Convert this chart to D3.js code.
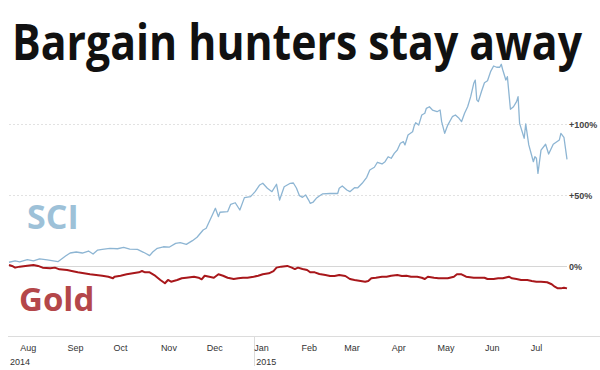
<!DOCTYPE html>
<html>
<head>
<meta charset="utf-8">
<script src="https://cdn.jsdelivr.net/npm/d3@7"></script>
<style>
  body { margin: 0; background: #fff; }
  svg { display: block; }
</style>
</head>
<body>
<svg id="chart" width="600" height="370"></svg>
<script>
// SCI index, % change since 24 Jul 2014
var sciDates = ["2014-07-24","2014-07-28","2014-07-31","2014-08-05","2014-08-09","2014-08-13","2014-08-18","2014-08-22","2014-08-25","2014-08-30",
  "2014-09-02","2014-09-06","2014-09-10","2014-09-14","2014-09-17","2014-09-20","2014-09-23","2014-09-28","2014-10-03","2014-10-07",
  "2014-10-11","2014-10-16","2014-10-20","2014-10-24","2014-10-26","2014-10-29","2014-11-02","2014-11-06","2014-11-10","2014-11-13",
  "2014-11-17","2014-11-21","2014-11-24","2014-11-28","2014-11-30","2014-12-04","2014-12-06","2014-12-08","2014-12-09","2014-12-14",
  "2014-12-16","2014-12-19","2014-12-22","2014-12-25","2014-12-29","2015-01-01","2015-01-04","2015-01-06","2015-01-09","2015-01-12",
  "2015-01-15","2015-01-17","2015-01-20","2015-01-24","2015-01-26","2015-01-28","2015-01-30","2015-02-01","2015-02-03","2015-02-05",
  "2015-02-06","2015-02-08","2015-02-10","2015-02-12","2015-02-14","2015-02-19","2015-02-24","2015-02-25","2015-02-27","2015-03-02",
  "2015-03-04","2015-03-07","2015-03-09","2015-03-12","2015-03-15","2015-03-17","2015-03-20","2015-03-22","2015-03-25","2015-03-27",
  "2015-03-29","2015-03-31","2015-04-02","2015-04-04","2015-04-06","2015-04-08","2015-04-09","2015-04-11","2015-04-14","2015-04-15",
  "2015-04-16","2015-04-18","2015-04-20","2015-04-22","2015-04-23","2015-04-25","2015-04-27","2015-04-30","2015-05-02","2015-05-03",
  "2015-05-05","2015-05-07","2015-05-10","2015-05-12","2015-05-14","2015-05-16","2015-05-18","2015-05-20","2015-05-22","2015-05-24",
  "2015-05-25","2015-05-26","2015-05-27","2015-05-29","2015-05-31","2015-06-02","2015-06-04","2015-06-06","2015-06-08","2015-06-10",
  "2015-06-11","2015-06-12","2015-06-13","2015-06-14","2015-06-15","2015-06-17","2015-06-19","2015-06-21","2015-06-22","2015-06-23",
  "2015-06-24","2015-06-26","2015-06-27","2015-06-29","2015-07-02","2015-07-03","2015-07-04","2015-07-05","2015-07-07","2015-07-10",
  "2015-07-12","2015-07-15","2015-07-19","2015-07-20","2015-07-22","2015-07-24"];
var sciValues = [3.0,3.9,3.2,4.8,3.9,5.3,4.6,3.9,3.4,7.4,
  9.5,10.2,9.5,10.9,8.8,11.6,12.1,12.7,12.5,13.4,
  12.3,12.0,10.0,7.7,10.2,12.8,13.9,13.7,16.3,16.8,
  15.6,18.2,20.6,25.7,26.9,36.3,41.0,35.1,38.2,38.6,
  43.8,44.9,39.8,48.5,49.2,52.7,57.4,58.6,55.1,52.7,
  57.9,46.8,56.2,58.6,58.8,55.3,49.9,48.7,50.4,46.8,
  44.5,45.4,48.0,49.6,51.1,51.4,51.4,55.1,56.7,53.9,
  52.7,55.5,55.3,58.6,62.8,68.0,69.9,73.4,72.2,73.8,
  77.3,76.2,79.7,82.0,86.8,87.9,85.6,92.6,94.9,98.9,
  101.3,99.6,106.7,107.9,111.4,112.5,110.2,109.0,110.2,102.0,
  93.8,99.6,105.5,106.7,104.8,102.0,107.9,112.5,119.6,129.0,
  131.3,117.3,116.1,123.1,129.4,130.8,137.2,141.2,140.3,140.3,
  142.4,138.4,134.9,131.3,133.7,110.7,112.5,116.1,119.6,100.8,
  97.3,90.3,100.4,85.6,73.8,77.3,76.2,65.6,82.0,86.1,
  79.2,86.1,89.1,93.8,91.0,75.5];

// Gold, % change since 24 Jul 2014
var goldDates = ["2014-07-24","2014-07-26","2014-07-28","2014-07-31","2014-08-05","2014-08-09","2014-08-12","2014-08-15","2014-08-20","2014-08-23",
  "2014-08-26","2014-08-31","2014-09-03","2014-09-07","2014-09-11","2014-09-15","2014-09-19","2014-09-23","2014-09-27","2014-09-30",
  "2014-10-01","2014-10-05","2014-10-09","2014-10-13","2014-10-17","2014-10-19","2014-10-21","2014-10-24","2014-10-27","2014-10-31",
  "2014-11-03","2014-11-05","2014-11-07","2014-11-11","2014-11-14","2014-11-17","2014-11-22","2014-11-25","2014-11-27","2014-11-29",
  "2014-12-02","2014-12-05","2014-12-08","2014-12-11","2014-12-14","2014-12-18","2014-12-21","2014-12-24","2014-12-27","2014-12-31",
  "2015-01-03","2015-01-06","2015-01-10","2015-01-13","2015-01-15","2015-01-18","2015-01-22","2015-01-25","2015-01-27","2015-01-29",
  "2015-02-01","2015-02-04","2015-02-06","2015-02-09","2015-02-12","2015-02-16","2015-02-19","2015-02-22","2015-02-25","2015-03-01",
  "2015-03-04","2015-03-07","2015-03-11","2015-03-14","2015-03-16","2015-03-18","2015-03-21","2015-03-25","2015-03-28","2015-03-31",
  "2015-04-04","2015-04-07","2015-04-10","2015-04-13","2015-04-17","2015-04-20","2015-04-22","2015-04-24","2015-04-28","2015-05-01",
  "2015-05-04","2015-05-07","2015-05-11","2015-05-13","2015-05-16","2015-05-19","2015-05-24","2015-05-28","2015-05-31","2015-06-02",
  "2015-06-06","2015-06-09","2015-06-12","2015-06-16","2015-06-18","2015-06-21","2015-06-24","2015-06-28","2015-07-01","2015-07-04",
  "2015-07-07","2015-07-11","2015-07-14","2015-07-16","2015-07-18","2015-07-20","2015-07-22","2015-07-24"];
var goldValues = [1.1,0.4,-0.8,-0.1,0.6,1.1,0.4,-0.8,-1.3,-0.8,
  -2.0,-2.5,-3.2,-4.1,-4.8,-5.5,-6.0,-6.5,-7.2,-8.3,
  -7.2,-6.5,-5.5,-4.8,-4.1,-3.2,-4.1,-4.1,-6.0,-9.5,
  -11.8,-9.5,-10.7,-9.5,-8.3,-7.9,-7.2,-7.9,-9.0,-6.5,
  -7.2,-7.9,-5.5,-6.5,-7.9,-8.8,-8.3,-7.9,-7.9,-7.2,
  -6.5,-5.5,-4.8,-3.2,-0.8,-0.1,0.4,-0.8,-1.8,-0.8,
  -1.8,-2.5,-4.1,-4.1,-5.3,-6.0,-6.7,-6.7,-6.0,-6.7,
  -8.8,-9.5,-10.2,-10.7,-10.2,-8.3,-7.9,-7.2,-7.2,-6.5,
  -6.0,-6.7,-6.5,-7.2,-7.2,-7.9,-8.8,-7.2,-7.9,-8.3,
  -8.3,-8.3,-7.2,-5.5,-5.5,-7.2,-7.9,-7.9,-7.9,-8.8,
  -8.8,-8.3,-8.3,-7.2,-8.3,-8.8,-9.5,-9.5,-10.2,-10.7,
  -10.7,-11.1,-12.5,-14.2,-15.4,-15.4,-14.9,-15.4];

var gridValues = [0, 50, 100];
var gridLabels = ["0%", "+50%", "+100%"];
var monthTicks = ["2014-08-01","2014-09-01","2014-10-01","2014-11-01","2014-12-01","2015-01-01",
  "2015-02-01","2015-03-01","2015-04-01","2015-05-01","2015-06-01","2015-07-01"];
var yearTicks = ["2014-08-01", "2015-01-01"];

var parse = d3.timeParse("%Y-%m-%d");
var svg = d3.select("#chart");

var x = d3.scaleTime()
    .domain([parse("2014-07-24"), parse("2015-07-24")])
    .range([9, 567]);
var y = d3.scaleLinear()
    .domain([0, 100])
    .range([266.5, 124.5]);

// title
var title = svg.append("text")
    .attr("x", 12)
    .attr("y", 60)
    .attr("font-family", "'Open Sans', sans-serif")
    .attr("font-weight", "bold")
    .attr("font-size", 51)
    .attr("fill", "#111")
    .text("Bargain hunters stay away");
if (title.node().getComputedTextLength() > 570) {
    title.attr("textLength", 570).attr("lengthAdjust", "spacingAndGlyphs");
}

// grid lines
gridValues.forEach(function(v, i) {
    svg.append("line")
        .attr("x1", 9).attr("x2", 567)
        .attr("y1", y(v)).attr("y2", y(v))
        .attr("stroke", v === 0 ? "#d6d6d6" : "#e2e2e2")
        .attr("stroke-width", 1)
        .attr("stroke-dasharray", v === 0 ? null : "2,2");
    svg.append("text")
        .attr("x", 569)
        .attr("y", y(v))
        .attr("dy", "0.35em")
        .attr("font-family", "'Liberation Sans', Arial, sans-serif")
        .attr("font-size", 9)
        .attr("font-weight", "bold")
        .attr("fill", "#444")
        .text(gridLabels[i]);
});

// x axis
svg.append("line")
    .attr("x1", 8).attr("x2", 600)
    .attr("y1", 336.5).attr("y2", 336.5)
    .attr("stroke", "#dcdcdc");
svg.append("line")
    .attr("x1", Math.round(x(parse("2015-01-01"))) - 0.5)
    .attr("x2", Math.round(x(parse("2015-01-01"))) - 0.5)
    .attr("y1", 337).attr("y2", 366)
    .attr("stroke", "#dcdcdc");

svg.selectAll(".month")
    .data(monthTicks)
    .enter().append("text")
    .attr("class", "month")
    .attr("x", function(d) { return x(parse(d)) - 1; })
    .attr("y", 351)
    .attr("font-family", "'Liberation Sans', Arial, sans-serif")
    .attr("font-size", 9)
    .attr("fill", "#333")
    .text(function(d) { return d3.timeFormat("%b")(parse(d)); });

svg.selectAll(".year")
    .data(yearTicks)
    .enter().append("text")
    .attr("class", "year")
    .attr("x", function(d, i) { return i === 0 ? 10 : x(parse(d)) + 1; })
    .attr("y", 365)
    .attr("font-family", "'Liberation Sans', Arial, sans-serif")
    .attr("font-size", 9)
    .attr("fill", "#333")
    .text(function(d) { return d3.timeFormat("%Y")(parse(d)); });

// lines
var line = d3.line()
    .x(function(d) { return x(d[0]); })
    .y(function(d) { return y(d[1]); });

var sciData = sciDates.map(function(d, i) { return [parse(d), sciValues[i]]; });
var goldData = goldDates.map(function(d, i) { return [parse(d), goldValues[i]]; });

svg.append("path")
    .datum(sciData)
    .attr("d", line)
    .attr("fill", "none")
    .attr("stroke", "#8db5d3")
    .attr("stroke-width", 1.3)
    .attr("stroke-linejoin", "round");

svg.append("path")
    .datum(goldData)
    .attr("d", line)
    .attr("fill", "none")
    .attr("stroke", "#a8171b")
    .attr("stroke-width", 2)
    .attr("stroke-linejoin", "round");

// series labels
svg.append("text")
    .attr("x", 27)
    .attr("y", 229)
    .attr("font-family", "'Open Sans', sans-serif")
    .attr("font-weight", "bold")
    .attr("font-size", 34)
    .attr("fill", "#9dc1d8")
    .text("SCI");

svg.append("text")
    .attr("x", 19)
    .attr("y", 311)
    .attr("font-family", "'Open Sans', sans-serif")
    .attr("font-weight", "bold")
    .attr("font-size", 33)
    .attr("fill", "#b4474a")
    .text("Gold");
</script>
</body>
</html>
